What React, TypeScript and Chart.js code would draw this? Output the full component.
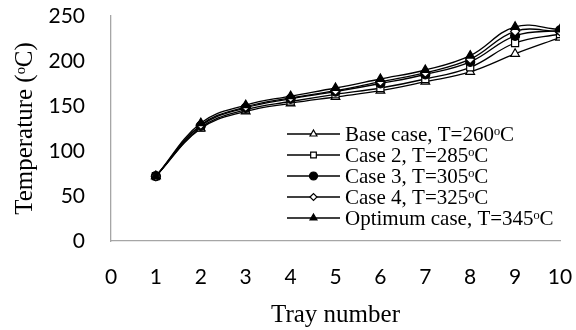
import React, { useEffect, useRef } from "react";
import { Chart, registerables } from "chart.js";
import { drawPoint } from "chart.js/helpers";

Chart.register(...registerables);

const trays = [1, 2, 3, 4, 5, 6, 7, 8, 9, 10];
const seriesLabels = [
  "Base case, T=260ᵒC",
  "Case 2, T=285ᵒC",
  "Case 3, T=305ᵒC",
  "Case 4, T=325ᵒC",
  "Optimum case, T=345ᵒC",
];
const baseCase = [72, 125, 144, 153, 160, 167, 177, 188, 208, 226];
const case2 = [72, 126, 146, 155, 163, 170, 180, 193, 220, 230];
const case3 = [72, 128, 148, 158, 166, 175, 185, 199, 228, 234];
const case4 = [72, 129, 149, 159, 167, 177, 187, 202, 233, 233];
const optimum = [72, 131, 151, 161, 170, 180, 190, 206, 238, 235];
const xTicks = [0, 1, 2, 3, 4, 5, 6, 7, 8, 9, 10];
const yTicks = [0, 50, 100, 150, 200, 250];

const seriesValues = [baseCase, case2, case3, case4, optimum];
const markerStyles = ["triangle", "rect", "circle", "rectRot", "triangle"];
const markerFills = ["#ffffff", "#ffffff", "#000000", "#ffffff", "#000000"];
const markerRadius = [5, 5, 4.5, 4.5, 5];
const legendRadius = [4, 4, 4, 3.5, 4];

const serif = "'Liberation Serif', 'Times New Roman', serif";
const sans = "Lato, 'Open Sans', sans-serif";

// Legend drawn inside the plot: a short line with the series marker, then the label.
const innerLegend = {
  id: "innerLegend",
  afterDatasetsDraw(chart: any) {
    const ctx = chart.ctx;
    const x0 = 287;
    const x1 = 340;
    const top = 134;
    const step = 21;
    ctx.save();
    chart.data.datasets.forEach((ds: any, i: number) => {
      const y = top + i * step;
      ctx.strokeStyle = "#000";
      ctx.lineWidth = 1.3;
      ctx.beginPath();
      ctx.moveTo(x0, y);
      ctx.lineTo(x1, y);
      ctx.stroke();
      ctx.fillStyle = ds.pointBackgroundColor;
      ctx.strokeStyle = "#000";
      ctx.lineWidth = 1.2;
      drawPoint(
        ctx,
        { pointStyle: ds.pointStyle, radius: legendRadius[i], borderWidth: 1.2, rotation: 0 } as any,
        (x0 + x1) / 2,
        y
      );
      ctx.fillStyle = "#000";
      ctx.font = `21px ${serif}`;
      ctx.textAlign = "left";
      ctx.textBaseline = "middle";
      ctx.fillText(ds.label, x1 + 5, y + 1);
    });
    ctx.restore();
  },
};

function zeroPadding(scale: any) {
  scale.paddingTop = 0;
  scale.paddingBottom = 0;
  scale.paddingLeft = 0;
  scale.paddingRight = 0;
}

export default function App() {
  const ref = useRef<HTMLCanvasElement>(null);

  useEffect(() => {
    document.body.style.margin = "0";
    const canvas = ref.current!;
    const chart = new Chart(canvas, {
      type: "line",
      data: {
        datasets: seriesValues.map((vals, i) => ({
          label: seriesLabels[i],
          data: trays.map((t, j) => ({ x: t, y: vals[j] })),
          // later series sit on top of earlier ones
          order: seriesValues.length - 1 - i,
          borderColor: "#000",
          borderWidth: 1.3,
          tension: 0.4,
          pointStyle: markerStyles[i] as any,
          pointRadius: markerRadius[i],
          pointBackgroundColor: markerFills[i],
          pointBorderColor: "#000",
          pointBorderWidth: 1.2,
          fill: false,
        })),
      },
      options: {
        animation: false,
        responsive: false,
        layout: { padding: { top: 16, right: 16, left: 0, bottom: 0 } },
        plugins: {
          legend: { display: false },
          tooltip: { enabled: false },
        },
        scales: {
          x: {
            type: "linear",
            min: 0,
            max: 10,
            afterBuildTicks(scale: any) {
              scale.ticks = xTicks.map((v) => ({ value: v }));
            },
            afterFit(scale: any) {
              scale.height = 89;
              zeroPadding(scale);
            },
            grid: { display: false, drawTicks: false },
            border: { color: "#a6a6a6", width: 1.3 },
            ticks: { color: "#000", font: { family: sans, size: 21 }, padding: 24, maxRotation: 0 },
            title: {
              display: true,
              text: "Tray number",
              color: "#000",
              font: { family: serif, size: 25 },
              padding: { top: 0, bottom: 0 },
            },
          },
          y: {
            type: "linear",
            min: 0,
            max: 250,
            afterBuildTicks(scale: any) {
              scale.ticks = yTicks.map((v) => ({ value: v }));
            },
            afterFit(scale: any) {
              scale.width = 111;
              zeroPadding(scale);
            },
            grid: { display: false, drawTicks: false },
            border: { color: "#a6a6a6", width: 1.3 },
            ticks: { color: "#000", font: { family: sans, size: 21 }, padding: 26 },
            title: {
              display: true,
              text: "Temperature (ᵒC)",
              color: "#000",
              font: { family: serif, size: 25 },
              padding: { top: 10, bottom: 0 },
            },
          },
        },
      },
      plugins: [innerLegend],
    });
    return () => chart.destroy();
  }, []);

  return (
    <div style={{ position: "absolute", left: 0, top: 0, width: 576, height: 330 }}>
      <canvas ref={ref} width={576} height={330} />
    </div>
  );
}
